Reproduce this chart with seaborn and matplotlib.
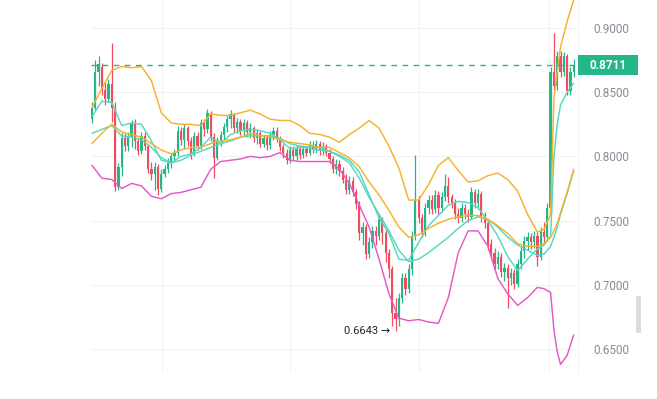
import numpy as np
import pandas as pd
import seaborn as sns
import matplotlib.pyplot as plt
from matplotlib.patches import Rectangle

# candle data, one entry per bar (left to right)
opens = [0.829, 0.838, 0.866, 0.870, 0.852, 0.845, 0.856, 0.838, 0.776, 0.792,
         0.814, 0.808, 0.815, 0.826, 0.812, 0.804, 0.816, 0.808, 0.790, 0.786,
         0.792, 0.775, 0.786, 0.790, 0.795, 0.800, 0.803, 0.820, 0.813, 0.822,
         0.812, 0.802, 0.816, 0.808, 0.826, 0.821, 0.834, 0.815, 0.799, 0.812,
         0.817, 0.823, 0.829, 0.833, 0.822, 0.827, 0.820, 0.826, 0.819, 0.822,
         0.814, 0.818, 0.810, 0.814, 0.809, 0.817, 0.820, 0.814, 0.807, 0.803,
         0.797, 0.805, 0.800, 0.806, 0.801, 0.806, 0.803, 0.809, 0.806, 0.810,
         0.804, 0.808, 0.803, 0.798, 0.790, 0.794, 0.789, 0.782, 0.774, 0.781,
         0.772, 0.763, 0.740, 0.745, 0.724, 0.733, 0.742, 0.738, 0.751, 0.740,
         0.725, 0.712, 0.678, 0.673, 0.690, 0.705, 0.697, 0.712, 0.738, 0.766,
         0.752, 0.741, 0.760, 0.766, 0.759, 0.770, 0.760, 0.768, 0.777, 0.768,
         0.764, 0.755, 0.752, 0.760, 0.755, 0.753, 0.772, 0.764, 0.771, 0.753,
         0.748, 0.732, 0.725, 0.716, 0.722, 0.710, 0.713, 0.705, 0.709, 0.701,
         0.716, 0.726, 0.734, 0.737, 0.733, 0.738, 0.722, 0.741, 0.737, 0.760,
         0.866, 0.855, 0.878, 0.866, 0.878, 0.851, 0.866]
closes = [0.838, 0.866, 0.872, 0.852, 0.845, 0.856, 0.838, 0.776, 0.792, 0.814,
          0.808, 0.815, 0.826, 0.812, 0.804, 0.816, 0.808, 0.790, 0.786, 0.792,
          0.775, 0.786, 0.790, 0.795, 0.800, 0.803, 0.820, 0.813, 0.822, 0.812,
          0.802, 0.816, 0.808, 0.826, 0.821, 0.834, 0.815, 0.799, 0.812, 0.817,
          0.823, 0.829, 0.833, 0.822, 0.827, 0.820, 0.826, 0.819, 0.822, 0.814,
          0.818, 0.810, 0.814, 0.809, 0.817, 0.820, 0.814, 0.807, 0.803, 0.797,
          0.805, 0.800, 0.806, 0.801, 0.806, 0.803, 0.809, 0.806, 0.810, 0.804,
          0.808, 0.803, 0.798, 0.790, 0.794, 0.789, 0.782, 0.774, 0.781, 0.772,
          0.763, 0.740, 0.745, 0.724, 0.733, 0.742, 0.738, 0.751, 0.740, 0.725,
          0.712, 0.678, 0.673, 0.690, 0.705, 0.697, 0.712, 0.738, 0.766, 0.752,
          0.741, 0.760, 0.766, 0.759, 0.770, 0.760, 0.768, 0.777, 0.768, 0.764,
          0.755, 0.752, 0.760, 0.755, 0.753, 0.772, 0.764, 0.771, 0.753, 0.748,
          0.732, 0.725, 0.716, 0.722, 0.710, 0.713, 0.705, 0.709, 0.701, 0.716,
          0.726, 0.734, 0.737, 0.733, 0.738, 0.722, 0.741, 0.737, 0.760, 0.866,
          0.855, 0.878, 0.866, 0.878, 0.851, 0.866, 0.8711]
highs = [0.842, 0.875, 0.878, 0.873, 0.858, 0.860, 0.888, 0.842, 0.795, 0.818,
         0.818, 0.819, 0.828, 0.829, 0.814, 0.819, 0.819, 0.810, 0.796, 0.796,
         0.794, 0.790, 0.793, 0.799, 0.803, 0.806, 0.824, 0.823, 0.825, 0.824,
         0.815, 0.819, 0.819, 0.829, 0.829, 0.837, 0.835, 0.818, 0.815, 0.820,
         0.826, 0.832, 0.836, 0.834, 0.830, 0.829, 0.829, 0.828, 0.826, 0.824,
         0.821, 0.820, 0.817, 0.817, 0.820, 0.823, 0.823, 0.816, 0.810, 0.806,
         0.808, 0.808, 0.809, 0.809, 0.809, 0.808, 0.812, 0.812, 0.813, 0.812,
         0.811, 0.810, 0.806, 0.800, 0.798, 0.797, 0.792, 0.786, 0.785, 0.784,
         0.775, 0.765, 0.749, 0.747, 0.737, 0.746, 0.746, 0.755, 0.753, 0.743,
         0.728, 0.715, 0.690, 0.694, 0.709, 0.709, 0.716, 0.742, 0.801, 0.769,
         0.755, 0.764, 0.770, 0.770, 0.774, 0.773, 0.772, 0.786, 0.784, 0.771,
         0.767, 0.760, 0.764, 0.763, 0.759, 0.776, 0.775, 0.775, 0.773, 0.757,
         0.751, 0.736, 0.729, 0.726, 0.725, 0.717, 0.716, 0.713, 0.712, 0.720,
         0.730, 0.738, 0.741, 0.740, 0.742, 0.741, 0.745, 0.749, 0.764, 0.870,
         0.896, 0.882, 0.882, 0.881, 0.880, 0.870, 0.876]
lows = [0.826, 0.836, 0.855, 0.848, 0.840, 0.842, 0.827, 0.773, 0.774, 0.785,
        0.804, 0.804, 0.807, 0.806, 0.801, 0.802, 0.805, 0.787, 0.782, 0.774,
        0.770, 0.772, 0.784, 0.787, 0.791, 0.797, 0.800, 0.809, 0.806, 0.808,
        0.798, 0.800, 0.805, 0.806, 0.816, 0.818, 0.812, 0.783, 0.797, 0.808,
        0.813, 0.819, 0.822, 0.819, 0.818, 0.817, 0.816, 0.815, 0.814, 0.811,
        0.810, 0.807, 0.807, 0.805, 0.806, 0.813, 0.811, 0.804, 0.799, 0.794,
        0.795, 0.797, 0.797, 0.798, 0.799, 0.800, 0.801, 0.803, 0.803, 0.801,
        0.801, 0.800, 0.795, 0.787, 0.786, 0.785, 0.779, 0.771, 0.771, 0.769,
        0.759, 0.735, 0.731, 0.720, 0.721, 0.729, 0.731, 0.735, 0.732, 0.718,
        0.705, 0.668, 0.6643, 0.668, 0.686, 0.692, 0.694, 0.708, 0.735, 0.748,
        0.737, 0.738, 0.755, 0.755, 0.756, 0.755, 0.757, 0.765, 0.764, 0.760,
        0.751, 0.748, 0.749, 0.751, 0.749, 0.751, 0.760, 0.760, 0.749, 0.744,
        0.727, 0.721, 0.712, 0.712, 0.706, 0.703, 0.682, 0.700, 0.697, 0.698,
        0.712, 0.721, 0.727, 0.728, 0.729, 0.715, 0.719, 0.733, 0.734, 0.756,
        0.852, 0.852, 0.862, 0.863, 0.848, 0.848, 0.862]

# band / average lines, sampled at these bar positions
line_pos = [0, 3, 6, 9, 12, 15, 18, 21, 24, 27, 30, 33, 36, 39, 42, 45, 48, 51,
            54, 57, 60, 63, 66, 69, 72, 75, 78, 81, 84, 87, 90, 93, 96, 99, 102,
            105, 108, 111, 114, 117, 120, 123, 126, 129, 132, 135, 137, 139,
            140, 141, 142, 144, 146]
upper_band = [0.838, 0.853, 0.867, 0.870, 0.869, 0.870, 0.859, 0.834, 0.826,
              0.825, 0.825, 0.824, 0.833, 0.832, 0.832, 0.834, 0.836, 0.833,
              0.829, 0.828, 0.828, 0.824, 0.818, 0.817, 0.815, 0.811, 0.817,
              0.822, 0.828, 0.822, 0.808, 0.791, 0.766, 0.766, 0.778, 0.793,
              0.799, 0.789, 0.780, 0.781, 0.785, 0.787, 0.782, 0.773, 0.755,
              0.741, 0.743, 0.755, 0.845, 0.866, 0.885, 0.905, 0.922]
mid_band = [0.810, 0.818, 0.825, 0.819, 0.817, 0.815, 0.810, 0.805, 0.802,
            0.805, 0.807, 0.807, 0.810, 0.812, 0.813, 0.815, 0.818, 0.816,
            0.815, 0.813, 0.811, 0.810, 0.809, 0.807, 0.807, 0.803, 0.799,
            0.792, 0.780, 0.770, 0.758, 0.745, 0.737, 0.739, 0.744, 0.748,
            0.751, 0.753, 0.754, 0.754, 0.751, 0.746, 0.740, 0.732, 0.730,
            0.730, 0.732, 0.737, 0.742, 0.748, 0.756, 0.772, 0.790]
fast_ma = [0.831, 0.843, 0.842, 0.824, 0.826, 0.825, 0.812, 0.797, 0.795,
           0.800, 0.802, 0.807, 0.815, 0.810, 0.817, 0.820, 0.821, 0.820,
           0.818, 0.813, 0.806, 0.807, 0.808, 0.807, 0.804, 0.801, 0.797,
           0.788, 0.770, 0.752, 0.740, 0.720, 0.719, 0.733, 0.746, 0.754,
           0.762, 0.765, 0.764, 0.760, 0.750, 0.738, 0.722, 0.711, 0.720,
           0.728, 0.731, 0.738, 0.800, 0.825, 0.840, 0.850, 0.857]
slow_ma = [0.818, 0.821, 0.824, 0.816, 0.815, 0.813, 0.807, 0.799, 0.795,
           0.797, 0.801, 0.804, 0.807, 0.810, 0.812, 0.815, 0.816, 0.816,
           0.816, 0.814, 0.810, 0.808, 0.806, 0.805, 0.804, 0.800, 0.795,
           0.783, 0.768, 0.755, 0.742, 0.727, 0.718, 0.720, 0.725, 0.731,
           0.737, 0.744, 0.750, 0.753, 0.751, 0.745, 0.737, 0.731, 0.727,
           0.723, 0.724, 0.730, 0.737, 0.745, 0.755, 0.771, 0.789]
lower_band = [0.793, 0.783, 0.782, 0.775, 0.779, 0.777, 0.769, 0.767, 0.771,
              0.772, 0.774, 0.776, 0.790, 0.796, 0.797, 0.798, 0.800, 0.799,
              0.800, 0.803, 0.797, 0.796, 0.796, 0.796, 0.796, 0.790, 0.779,
              0.762, 0.745, 0.720, 0.693, 0.674, 0.672, 0.673, 0.671, 0.670,
              0.690, 0.725, 0.742, 0.742, 0.730, 0.705, 0.693, 0.684, 0.690,
              0.698, 0.697, 0.694, 0.665, 0.648, 0.638, 0.645, 0.661]

yticks = [0.65, 0.70, 0.75, 0.80, 0.85, 0.90]
vgrid = [21.2, 60, 99.1, 138.5]

GREEN = "#24b588"
RED = "#ef4d5c"
ORANGE = "#f8b12a"
TEAL = "#55d8c0"
PINK = "#e658c8"
GRID = "#f1f2f4"

sns.set_theme(style="white")
plt.rcParams["font.family"] = ["Roboto", "DejaVu Sans"]

fig = plt.figure(figsize=(6.57, 3.99), dpi=100)
ax = fig.add_axes([91 / 657, 27 / 399, 487 / 657, 372 / 399])

df = pd.DataFrame({"open": opens, "high": highs, "low": lows, "close": closes})
df["pos"] = np.arange(len(df))
df["up"] = df["close"] >= df["open"]
df["color"] = np.where(df["up"], GREEN, RED)

# grid
for y in yticks:
    ax.axhline(y, color=GRID, lw=0.8, zorder=0)
for x in vgrid:
    ax.axvline(x, color=GRID, lw=0.8, zorder=0)

# candles
ax.vlines(df["pos"], df["low"], df["high"], colors=df["color"], lw=0.9, zorder=2)
body_lo = df[["open", "close"]].min(axis=1)
body_h = (df["close"] - df["open"]).abs().clip(lower=0.0012)
ax.bar(df["pos"], body_h, bottom=body_lo, width=0.68, color=df["color"],
       linewidth=0, zorder=3)

# bands
lines = pd.DataFrame({"pos": line_pos, "upper": upper_band, "mid": mid_band,
                      "fast": fast_ma, "slow": slow_ma, "lower": lower_band})
for col, c in [("lower", PINK), ("slow", TEAL), ("fast", TEAL),
               ("mid", ORANGE), ("upper", ORANGE)]:
    sns.lineplot(data=lines, x="pos", y=col, color=c, lw=1.05, ax=ax, zorder=4)

last = closes[-1]
ax.axhline(last, color=GREEN, lw=1.0, ls=(0, (4, 4)), zorder=5)

# lowest point marker
low_i = int(np.argmin(lows))
ax.text(low_i - 1.6, lows[low_i], f"{lows[low_i]:.4f} \u2192", ha="right",
        va="center", fontsize=8, color="#1e2329", zorder=6)

ax.set_xlim(-0.3, 147.3)
ax.set_ylim(0.6321, 0.9218)
ax.set_xlabel("")
ax.set_ylabel("")
ax.set_xticks([])
ax.yaxis.tick_right()
ax.set_yticks(yticks)
ax.set_yticklabels([f"{v:.4f}" for v in yticks])
ax.tick_params(axis="y", length=0, pad=11, labelsize=8.5, labelcolor="#858b97")
for s in ["left", "top", "bottom"]:
    ax.spines[s].set_visible(False)
ax.spines["right"].set_color(GRID)
ax.spines["right"].set_linewidth(0.8)

# last price tag
fig.canvas.draw()
ypix = ax.transData.transform((0, last))[1]
x0 = ax.transAxes.transform((1, 0))[0]
fig.patches.append(Rectangle((x0, ypix - 10), 60, 20, transform=None,
                             facecolor=GREEN, edgecolor="none", zorder=10))
fig.text(x0 + 30, ypix, f"{last:.4f}", transform=None, ha="center",
         va="center", color="white", fontsize=8.5, fontweight="bold", zorder=11)

# small side handle
fig.patches.append(Rectangle((636 / 657, 66 / 399), 5 / 657, 37 / 399,
                             transform=fig.transFigure, facecolor="#d9dce1",
                             edgecolor="none"))

fig.savefig("out.png", dpi=100)
